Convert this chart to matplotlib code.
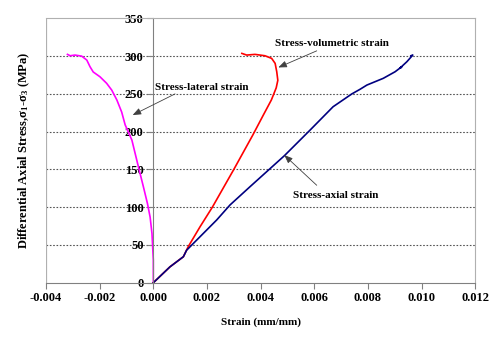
import matplotlib
matplotlib.use('Agg')
import matplotlib.pyplot as plt

plt.rcParams['font.family'] = ['Liberation Serif', 'DejaVu Serif']
plt.rcParams['font.weight'] = 'bold'
plt.rcParams['mathtext.fontset'] = 'custom'
plt.rcParams['mathtext.rm'] = 'Liberation Serif:bold'
plt.rcParams['mathtext.it'] = 'Liberation Serif:bold'
plt.rcParams['mathtext.bf'] = 'Liberation Serif:bold'

# stress (MPa) vs strain readings
lat_strain = [0.0, 0.0, -0.00005, -0.00012, -0.00022, -0.00037, -0.00056, -0.0008,
              -0.00105, -0.00118, -0.00136, -0.00155, -0.00174, -0.00199, -0.00224,
              -0.00236, -0.00248, -0.00267, -0.00292, -0.0031, -0.0032]
lat_stress = [0, 30, 65, 87, 105, 127, 154, 189, 209, 226, 242, 255, 264, 272.7, 279,
              286, 294.8, 300, 301.4, 300.5, 302.3]

vol_strain = [0.0, 0.00062, 0.00112, 0.0013, 0.00174, 0.0022, 0.003, 0.0037,
              0.0041, 0.0044, 0.00458, 0.00464, 0.0046, 0.00454, 0.00441,
              0.00416, 0.00379, 0.00348, 0.0033]
vol_stress = [0, 21, 34.4, 47.7, 74, 100, 150, 195, 222, 242, 258, 268, 279.3,
              290.4, 297, 300.5, 302.3, 301.4, 303.6]

ax_strain = [0.0, 0.00062, 0.00112, 0.00124, 0.00236, 0.00286, 0.0036, 0.00488,
             0.00584, 0.0067, 0.0074, 0.0077, 0.00796, 0.00857, 0.00901, 0.00926,
             0.0092, 0.00928, 0.00945, 0.00967, 0.0096]
ax_stress = [0, 21, 34.4, 43, 83, 103, 127, 168, 202, 233, 250, 256, 261.7, 270.6,
             279.3, 286, 284, 287, 292.6, 301.4, 300.5]

xticks = [-0.004, -0.002, 0.0, 0.002, 0.004, 0.006, 0.008, 0.010, 0.012]
yticks = [0, 50, 100, 150, 200, 250, 300, 350]

fig = plt.figure(figsize=(5, 3.4), dpi=100)
ax = fig.add_axes([0.092, 0.1685, 0.8586, 0.7775])

ax.plot(lat_strain, lat_stress, color='#FF00FF', lw=1.2)
ax.plot(vol_strain, vol_stress, color='#FF0000', lw=1.2)
ax.plot(ax_strain, ax_stress, color='#000080', lw=1.2)

ax.set_xlim(-0.004, 0.012)
ax.set_ylim(0, 350)
ax.set_xticks(xticks)
ax.set_xticklabels(['%.3f' % v for v in xticks])
ax.set_yticks(yticks)
for y in yticks[1:-1]:
    ax.axhline(y, color='#555555', ls=(0, (1.5, 1.5)), lw=0.8, zorder=0)

ax.spines['left'].set_position(('data', 0))
ax.spines['left'].set_color('#808080')
ax.spines['bottom'].set_color('#808080')
ax.spines['top'].set_color('#b0b0b0')
ax.spines['right'].set_color('#b0b0b0')
ax.axvline(-0.004, color='#b0b0b0', lw=1.6, zorder=0)
ax.tick_params(axis='both', direction='out', length=4, color='#808080',
               labelsize=9, pad=3)

ax.set_xlabel('Strain (mm/mm)', fontsize=8, fontweight='bold', labelpad=9)
ax.set_ylabel('Differential Axial Stress,σ$_1$-σ$_3$ (MPa)', fontsize=9,
              fontweight='bold')
ax.yaxis.set_label_coords(-0.032, 0.5)

arrow = dict(arrowstyle='-|>,head_length=0.5,head_width=0.2', color='#404040',
             lw=0.6, shrinkA=0, shrinkB=0)
ax.annotate('', xy=(-0.00077, 222), xytext=(0.00081, 250), arrowprops=arrow)
ax.text(0.00005, 259, 'Stress-lateral strain', fontsize=8, fontweight='bold',
        ha='left', va='center')
ax.annotate('', xy=(0.00466, 285), xytext=(0.00609, 307), arrowprops=arrow)
ax.text(0.00666, 317, 'Stress-volumetric strain', fontsize=8, fontweight='bold',
        ha='center', va='center')
ax.annotate('', xy=(0.00488, 169), xytext=(0.00609, 129), arrowprops=arrow)
ax.text(0.00681, 116, 'Stress-axial strain', fontsize=8, fontweight='bold',
        ha='center', va='center')

fig.savefig('out.png', dpi=100)
